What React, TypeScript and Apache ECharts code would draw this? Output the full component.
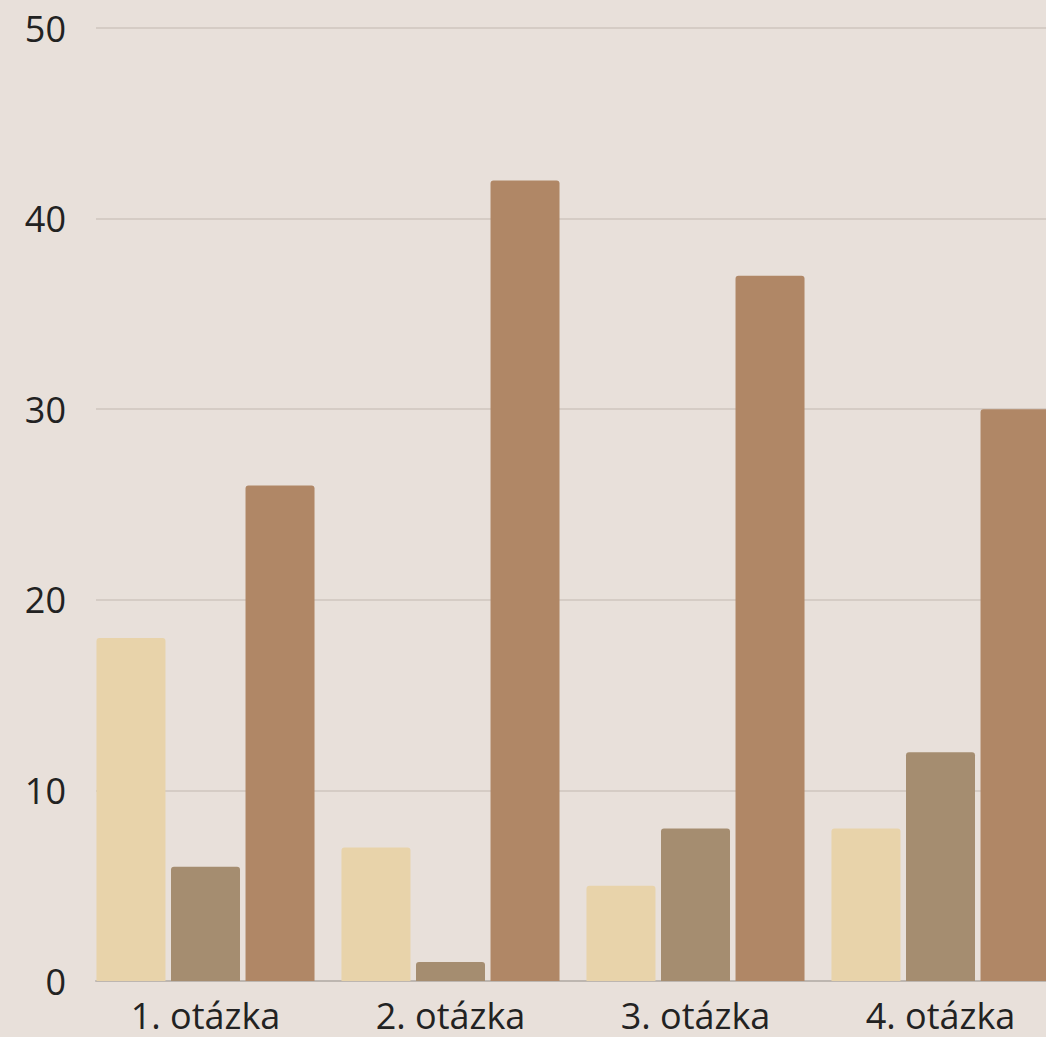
import React, { useEffect, useRef } from "react";
import * as echarts from "echarts";

const categories = ["1. otázka", "2. otázka", "3. otázka", "4. otázka"];
const seriesA = [18, 7, 5, 8];
const seriesB = [6, 1, 8, 12];
const seriesC = [26, 42, 37, 30];
const seriesNames = ["A", "B", "C"];
const seriesColors = ["#e8d3aa", "#a58d70", "#b08766"];

export default function App() {
  const ref = useRef<HTMLDivElement>(null);
  useEffect(() => {
    document.body.style.margin = "0";
    document.body.style.overflow = "hidden";
    document.documentElement.style.overflow = "hidden";
    document.body.style.background = "#e8e0da";
    const chart = echarts.init(ref.current!, undefined, { renderer: "svg" });
    const font = "'Open Sans', 'Noto Sans', sans-serif";
    const values = [seriesA, seriesB, seriesC];
    chart.setOption({
      animation: false,
      backgroundColor: "#e8e0da",
      grid: [
        { left: 96, right: 0, top: 28, bottom: 56 },
        { left: 83, right: 0, top: 28, bottom: 56 },
      ],
      xAxis: [
        {
          type: "value",
          gridIndex: 0,
          min: 0,
          max: 1,
          axisLine: { show: true, lineStyle: { color: "#bdb6b0", width: 2 } },
          axisTick: { show: false },
          axisLabel: { show: false },
          splitLine: { show: false },
        },
        {
          type: "category",
          gridIndex: 1,
          data: categories,
          axisLine: { show: false },
          axisTick: { show: false },
          axisLabel: {
            fontFamily: font,
            fontSize: 36,
            color: "#222222",
            margin: 16,
          },
        },
      ],
      yAxis: [
        {
          type: "value",
          gridIndex: 0,
          min: 0,
          max: 50,
          interval: 10,
          axisLine: { show: false },
          axisTick: { show: false },
          axisLabel: {
            fontFamily: font,
            fontSize: 36,
            color: "#222222",
            margin: 30,
          },
          splitLine: { lineStyle: { color: "#d5ccc5", width: 2 } },
        },
        {
          type: "value",
          gridIndex: 1,
          min: 0,
          max: 50,
          show: false,
          splitLine: { show: false },
        },
      ],
      series: values.map((d, i) => ({
        type: "bar",
        name: seriesNames[i],
        xAxisIndex: 1,
        yAxisIndex: 1,
        data: d,
        barWidth: 69,
        barGap: "8%",
        itemStyle: { color: seriesColors[i], borderRadius: [3, 3, 0, 0] },
      })),
    });
    return () => chart.dispose();
  }, []);
  return (
    <div style={{ width: 1046, height: 1037, overflow: "hidden" }}>
      <div ref={ref} style={{ width: 1063, height: 1037 }} />
    </div>
  );
}
